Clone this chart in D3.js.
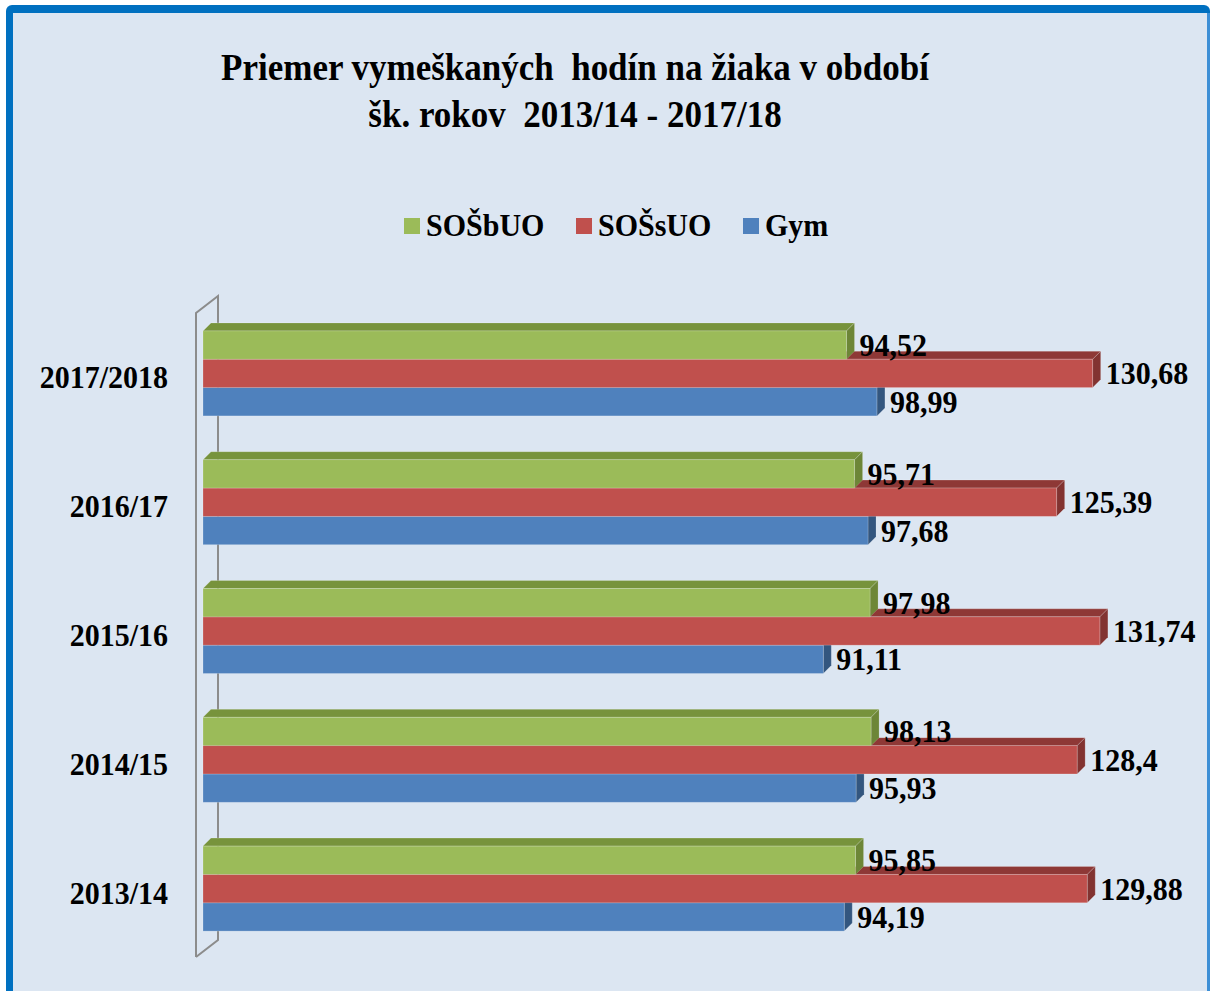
<!DOCTYPE html>
<html>
<head>
<meta charset="utf-8">
<script src="https://cdn.jsdelivr.net/npm/d3@7"></script>
<style>
  html, body { margin: 0; padding: 0; background: #ffffff; }
  svg { display: block; }
  text { font-family: "Liberation Serif", "Times New Roman", serif; font-weight: bold; fill: #000; white-space: pre; }
</style>
</head>
<body>
<div id="chart"></div>
<script>
// School years shown on the category axis, top to bottom
const categories = ["2017/2018", "2016/17", "2015/16", "2014/15", "2013/14"];
// Series names
const seriesNames = ["SOŠbUO", "SOŠsUO", "Gym"];
// Average missed hours per pupil, one array per series (same order as categories)
const sosbuo = [94.52, 95.71, 97.98, 98.13, 95.85];
const sossuo = [130.68, 125.39, 131.74, 128.4, 129.88];
const gym    = [98.99, 97.68, 91.11, 95.93, 94.19];
const seriesColors = ["#9bbb59", "#c0504d", "#4f81bd"];
const sideColors   = ["#77933c", "#8e3836", "#385e8b"];
const axisMax = 140;

const W = 1212, H = 991;
const seriesValues = [sosbuo, sossuo, gym];
const fmt = v => String(v).replace(".", ",");

const svg = d3.select("#chart").append("svg").attr("width", W).attr("height", H);

// Panel background with blue frame
svg.append("rect").attr("x", 6).attr("y", 5).attr("width", 1204).attr("height", 1000)
  .attr("rx", 6).attr("fill", "#0070c0");
svg.append("rect").attr("x", 13).attr("y", 13).attr("width", 1194).attr("height", 990)
  .attr("fill", "#dce6f2");
svg.append("rect").attr("x", 1207).attr("y", 13).attr("width", 3).attr("height", 990)
  .attr("fill", "#3d8fd6");

const stretch = "scale(1,1.08)";
function stretchedText(g, x, y, txt, size, anchor) {
  return g.append("text")
    .attr("transform", `translate(${x},${y}) ${stretch}`)
    .attr("text-anchor", anchor)
    .attr("xml:space", "preserve")
    .style("font-size", size + "px")
    .text(txt);
}

// Title
stretchedText(svg, 575, 80, "Priemer vymeškaných  hodín na žiaka v období", 35, "middle");
stretchedText(svg, 575, 127, "šk. rokov  2013/14 - 2017/18", 35, "middle");

// Legend
const legendX = [404, 576, 743];
const legend = svg.append("g");
seriesNames.forEach((name, i) => {
  legend.append("rect").attr("x", legendX[i]).attr("y", 218).attr("width", 16).attr("height", 16)
    .attr("fill", seriesColors[i]);
  stretchedText(legend, legendX[i] + 22, 236, name, 30, "start");
});

// Scales
const x = d3.scaleLinear().domain([0, axisMax]).range([203, 203 + axisMax * 6.808]);
const y = d3.scaleBand().domain(categories).range([309, 953]).paddingInner(0.34).paddingOuter(0.17);
const ySub = d3.scaleBand().domain(seriesNames).range([0, y.bandwidth()]);
const d = 8; // bar depth offset

// 3D axis wall
const wallDX = 22, wallDY = 17;
const wallTop = 313, wallBot = 957, wallX = 196;
svg.append("path")
  .attr("d", `M${wallX},${wallBot} L${wallX},${wallTop} L${wallX + wallDX},${wallTop - wallDY} L${wallX + wallDX},${wallBot - wallDY} L${wallX},${wallBot}`)
  .attr("fill", "none").attr("stroke", "#8c8c8c").attr("stroke-width", 2);

// Category labels
categories.forEach(c => {
  stretchedText(svg, 168, y(c) + y.bandwidth() / 2 + 15, c, 30, "end");
});

// Bars: draw the lower series first so the upper bar's front covers the next one's top face
const bars = svg.append("g");
categories.forEach((c, ci) => {
  for (let si = seriesNames.length - 1; si >= 0; si--) {
    const v = seriesValues[si][ci];
    const x0 = x(0), x1 = x(v);
    const y0 = y(c) + ySub(seriesNames[si]);
    const y1 = y0 + ySub.bandwidth();
    const g = bars.append("g");
    // top face
    g.append("path")
      .attr("d", `M${x0},${y0} L${x0 + d},${y0 - d} L${x1 + d},${y0 - d} L${x1},${y0} Z`)
      .attr("fill", sideColors[si]).attr("stroke", "rgba(255,255,255,0.25)").attr("stroke-width", 0.8);
    // right side face
    g.append("path")
      .attr("d", `M${x1},${y0} L${x1 + d},${y0 - d} L${x1 + d},${y1 - d} L${x1},${y1} Z`)
      .attr("fill", d3.color(sideColors[si]).darker(0.25)).attr("stroke", "rgba(255,255,255,0.2)").attr("stroke-width", 0.8);
    // front face
    g.append("rect").attr("x", x0).attr("y", y0).attr("width", x1 - x0).attr("height", y1 - y0)
      .attr("fill", seriesColors[si]).attr("stroke", "rgba(255,255,255,0.25)").attr("stroke-width", 0.8);
  }
});

// Value labels
const labels = svg.append("g");
categories.forEach((c, ci) => {
  seriesNames.forEach((s, si) => {
    const v = seriesValues[si][ci];
    const cy = y(c) + ySub(s) + ySub.bandwidth() / 2;
    stretchedText(labels, x(v) + d + 5, cy + 11, fmt(v), 30, "start");
  });
});
</script>
</body>
</html>
